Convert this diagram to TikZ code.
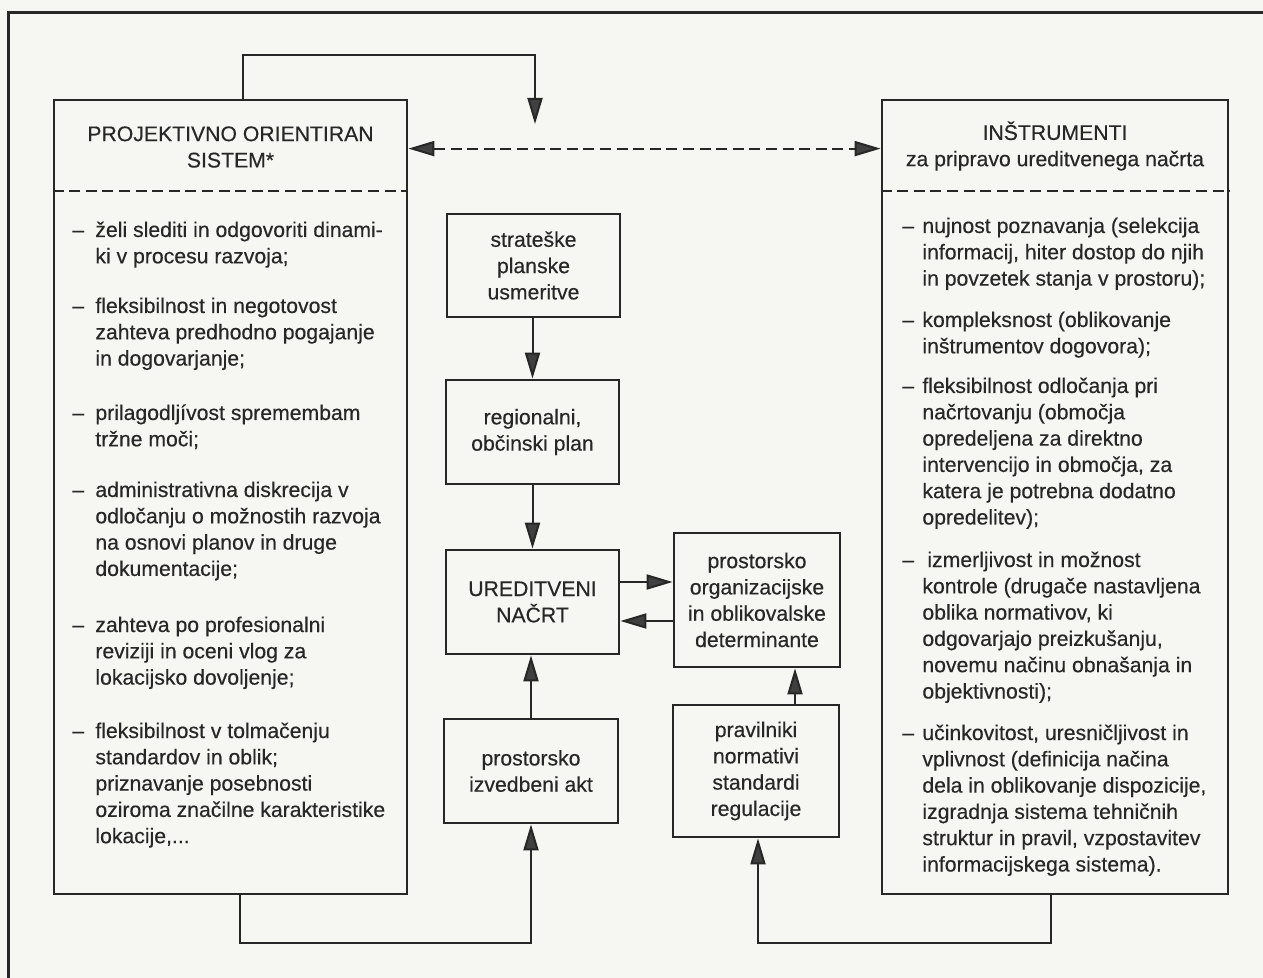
\documentclass[tikz,border=0pt]{standalone}
\usepackage{fontspec}
\setmainfont{Liberation Sans}[FakeBold=0.35]
\usetikzlibrary{arrows.meta}
\definecolor{ink}{HTML}{272727}
\definecolor{paper}{HTML}{F6F6F3}
\definecolor{headc}{HTML}{404040}
\newcommand\mytxt{\fontsize{10.6}{13.15}\selectfont}
\newcommand\dsh{–}
\tikzset{
  box/.style={draw=ink, line width=1.4pt, inner sep=0pt, font=\mytxt, align=center, text=ink},
  bigbox/.style={draw=ink, line width=1.4pt, inner sep=0pt},
  conn/.style={draw=ink, line width=1pt},
  tipA/.tip={Triangle[length=13pt,width=7.5pt,fill=headc]},
  arr/.style={conn, -tipA},
  darr/.style={conn, dash pattern=on 5.5pt off 2.8pt, tipA-tipA},
  sep/.style={draw=ink, line width=1pt, dash pattern=on 5.5pt off 2.8pt},
  itemtxt/.style={anchor=base west, inner sep=0pt, font=\mytxt, text=ink},
  headtxt/.style={inner sep=0pt, font=\mytxt, align=center, text=ink},
}
\begin{document}
\begin{tikzpicture}[x=0.5pt,y=-0.5pt]
\fill[paper] (0,0) rectangle (1263,978);
\useasboundingbox (0,0) rectangle (1263,978);
% outer frame (only left and top visible)
\draw[ink, line width=1.5pt] (8,978) -- (8,13) -- (1263,13);

% big boxes
\node[bigbox, minimum width=176.5pt, minimum height=397pt] (lbox) at (230.5,497) {};
\node[bigbox, minimum width=173pt, minimum height=397pt] (rbox) at (1055,497) {};
\draw[sep] ([yshift=-46pt]lbox.north west) -- ([yshift=-46pt]lbox.north east);
\draw[sep] ([yshift=-46pt]rbox.north west) -- ([yshift=-46pt]rbox.north east);

% headers
\node[headtxt] (lhead) at (230.5,147) {PROJEKTIVNO ORIENTIRAN\\SISTEM*};
\node[headtxt] (rhead) at (1055,146) {INŠTRUMENTI\\za pripravo ureditvenega načrta};

% central boxes
\node[box, minimum width=86.5pt, minimum height=51.5pt] (strat) at (533.5,265.5) {strateške\\planske\\usmeritve};
\node[box, minimum width=86.5pt, minimum height=52pt] (reg) at (532.5,432) {regionalni,\\občinski plan};
\node[box, minimum width=86.5pt, minimum height=52pt] (ured) at (532.5,602) {UREDITVENI\\NAČRT};
\node[box, minimum width=87pt, minimum height=52pt] (izv) at (531,771) {prostorsko\\izvedbeni akt};
\node[box, minimum width=83pt, minimum height=67pt] (org) at (757,600) {prostorsko\\organizacijske\\in oblikovalske\\determinante};
\node[box, minimum width=83pt, minimum height=66pt] (prav) at (756,771) {pravilniki\\normativi\\standardi\\regulacije};

% left items
\node[itemtxt] (l1) at (72,237) {\begin{tabular}[t]{@{}p{11.5pt}@{}l@{}}\dsh&želi slediti in odgovoriti dinami-\\&ki v procesu razvoja;\end{tabular}};
\node[itemtxt] (l2) at (72,313) {\begin{tabular}[t]{@{}p{11.5pt}@{}l@{}}\dsh&fleksibilnost in negotovost\\&zahteva predhodno pogajanje\\&in dogovarjanje;\end{tabular}};
\node[itemtxt] (l3) at (72,420) {\begin{tabular}[t]{@{}p{11.5pt}@{}l@{}}\dsh&prilagodljívost spremembam\\&tržne moči;\end{tabular}};
\node[itemtxt] (l4) at (72,497) {\begin{tabular}[t]{@{}p{11.5pt}@{}l@{}}\dsh&administrativna diskrecija v\\&odločanju o možnostih razvoja\\&na osnovi planov in druge\\&dokumentacije;\end{tabular}};
\node[itemtxt] (l5) at (72,632) {\begin{tabular}[t]{@{}p{11.5pt}@{}l@{}}\dsh&zahteva po profesionalni\\&reviziji in oceni vlog za\\&lokacijsko dovoljenje;\end{tabular}};
\node[itemtxt] (l6) at (72,738) {\begin{tabular}[t]{@{}p{11.5pt}@{}l@{}}\dsh&fleksibilnost v tolmačenju\\&standardov in oblik;\\&priznavanje posebnosti\\&oziroma značilne karakteristike\\&lokacije,...\end{tabular}};

% right items
\node[itemtxt] (r1) at (902,233) {\begin{tabular}[t]{@{}p{10pt}@{}l@{}}\dsh&nujnost poznavanja (selekcija\\&informacij, hiter dostop do njih\\&in povzetek stanja v prostoru);\end{tabular}};
\node[itemtxt] (r2) at (902,327) {\begin{tabular}[t]{@{}p{10pt}@{}l@{}}\dsh&kompleksnost (oblikovanje\\&inštrumentov dogovora);\end{tabular}};
\node[itemtxt] (r3) at (902,393) {\begin{tabular}[t]{@{}p{10pt}@{}l@{}}\dsh&fleksibilnost odločanja pri\\&načrtovanju (območja\\&opredeljena za direktno\\&intervencijo in območja, za\\&katera je potrebna dodatno\\&opredelitev);\end{tabular}};
\node[itemtxt] (r4) at (902,567) {\begin{tabular}[t]{@{}p{10pt}@{}l@{}}\dsh&\hspace{2.5pt}izmerljivost in možnost\\&kontrole (drugače nastavljena\\&oblika normativov, ki\\&odgovarjajo preizkušanju,\\&novemu načinu obnašanja in\\&objektivnosti);\end{tabular}};
\node[itemtxt] (r5) at (902,740) {\begin{tabular}[t]{@{}p{10pt}@{}l@{}}\dsh&učinkovitost, uresničljivost in\\&vplivnost (definicija načina\\&dela in oblikovanje dispozicije,\\&izgradnja sistema tehničnih\\&struktur in pravil, vzpostavitev\\&informacijskega sistema).\end{tabular}};

% connectors
\coordinate (tl) at (243,55);
\coordinate (tr) at (535,55);
\coordinate (tend) at (535,124);
\draw[arr] (tl |- lbox.north) -- (tl) -- (tr) -- (tend);

\draw[darr] ([yshift=-25pt]lbox.north east) -- ([yshift=-25pt]rbox.north west);

\draw[arr] (strat.south -| reg.north) -- (reg.north);
\draw[arr] (reg.south) -- (ured.north);
\draw[arr] (izv.north) -- (izv.north |- ured.south);
\draw[arr] ([yshift=10pt]ured.east) -- ([yshift=10pt]ured.east -| org.west);
\draw[arr] ([yshift=-9.5pt]ured.east -| org.west) -- ([yshift=-9.5pt]ured.east);
\draw[arr] ([xshift=19.5pt]prav.north) -- ([xshift=19.5pt]prav.north |- org.south);

\coordinate (bl) at (240,943);
\draw[arr] (bl |- lbox.south) -- (bl) -- (bl -| izv.south) -- (izv.south);
\coordinate (br) at (1051,943);
\draw[arr] (br |- rbox.south) -- (br) -- ([xshift=1pt]br -| prav.south) -- ([xshift=1pt]prav.south);
\end{tikzpicture}
\end{document}
